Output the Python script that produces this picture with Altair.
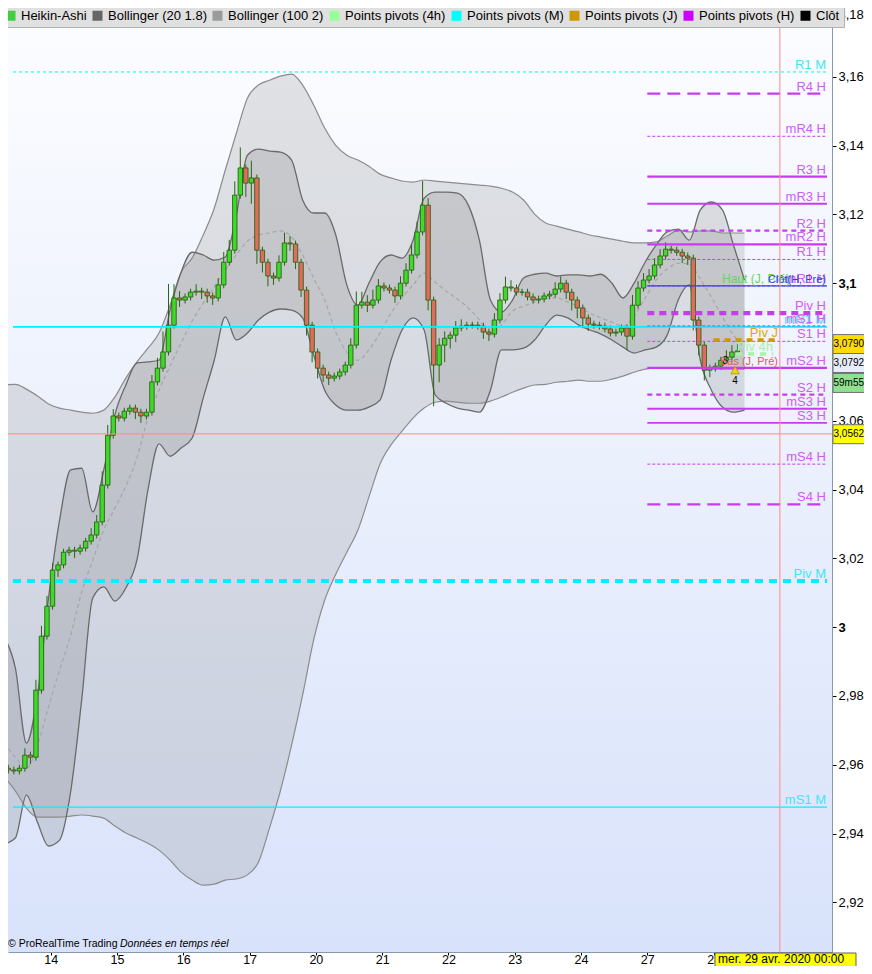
import altair as alt
import pandas as pd

# ---------------------------------------------------------------- calendar / axes
day_labels = ["13", "14", "15", "16", "17", "20", "21", "22", "23", "24", "27", "28", "29"]
day_ticks = list(range(1, 13))
y_ticks = [2.92, 2.94, 2.96, 2.98, 3.0, 3.02, 3.04, 3.06, 3.08, 3.1, 3.12, 3.14, 3.16, 3.18]

# ---------------------------------------------------------------- Heikin-Ashi candles (12 per trading day)
candle_start = 0.36
candles_per_day = 12
ha_first_open = 2.9590
ha_close = [
    2.9585, 2.9582, 2.9590, 2.9628, 2.9622, 2.9817, 2.9974, 3.0061, 3.0166, 3.0181,
    3.0218, 3.0224, 3.0221, 3.0230, 3.0250, 3.0268, 3.0306, 3.0413, 3.0558, 3.0614,
    3.0608, 3.0628, 3.0637, 3.0625, 3.0614, 3.0625, 3.0713, 3.0753, 3.0800, 3.0878,
    3.0957, 3.0951, 3.0960, 3.0974, 3.0977, 3.0974, 3.0963, 3.0957, 3.0995, 3.1061,
    3.1096, 3.1256, 3.1335, 3.1291, 3.1306, 3.1096, 3.1061, 3.1021, 3.1015, 3.1061,
    3.1117, 3.1114, 3.1061, 3.0980, 3.0878, 3.0800, 3.0753, 3.0733, 3.0724, 3.0730,
    3.0742, 3.0762, 3.0820, 3.0936, 3.0945, 3.0936, 3.0951, 3.0992, 3.0986, 3.0980,
    3.0963, 3.1000, 3.1038, 3.1082, 3.1149, 3.1227, 3.0951, 3.0762, 3.0820, 3.0840,
    3.0849, 3.0870, 3.0875, 3.0878, 3.0878, 3.0875, 3.0858, 3.0852, 3.0893, 3.0951,
    3.0989, 3.0986, 3.0974, 3.0974, 3.0960, 3.0951, 3.0954, 3.0963, 3.0968, 3.0983,
    3.1000, 3.0974, 3.0951, 3.0928, 3.0899, 3.0881, 3.0878, 3.0875, 3.0867, 3.0855,
    3.0858, 3.0870, 3.0846, 3.0936, 3.0986, 3.1009, 3.1021, 3.1053, 3.1079, 3.1099,
    3.1096, 3.1090, 3.1079, 3.1073, 3.0893, 3.0820, 3.0747, 3.0753, 3.0759, 3.0776,
    3.0785, 3.0800, 3.0803,
]
# wick extensions above / below the body, in thousandths
wick_up = [
    1, 1, 1, 2, 1, 3, 3, 3, 2, 1, 1, 1, 1, 1, 1, 2, 2, 4, 3, 2,
    1, 1, 1, 1, 1, 1, 2, 3, 6, 12, 4, 2, 1, 1, 2, 1, 1, 1, 2, 3,
    3, 4, 6, 1, 5, 1, 1, 1, 1, 2, 3, 2, 1, 1, 1, 1, 1, 1, 1, 1,
    1, 1, 2, 4, 3, 2, 3, 2, 1, 1, 1, 2, 2, 3, 3, 7, 2, 1, 2, 2,
    1, 2, 2, 1, 1, 1, 1, 1, 2, 2, 3, 2, 1, 1, 1, 1, 1, 1, 1, 2,
    2, 1, 1, 1, 1, 1, 1, 1, 1, 1, 1, 1, 1, 3, 2, 2, 2, 2, 2, 2,
    1, 1, 1, 1, 1, 1, 1, 1, 1, 1, 2, 2, 2,
]
wick_dn = [
    1, 1, 1, 1, 2, 1, 1, 1, 1, 2, 1, 1, 2, 1, 1, 1, 1, 1, 1, 1,
    1, 1, 1, 2, 2, 1, 1, 1, 1, 1, 1, 2, 1, 1, 1, 2, 2, 2, 1, 1,
    1, 1, 1, 4, 6, 4, 3, 3, 2, 1, 1, 2, 2, 2, 3, 3, 3, 2, 2, 1,
    1, 1, 1, 1, 1, 2, 1, 1, 1, 1, 2, 1, 1, 1, 1, 1, 3, 12, 5, 5,
    3, 2, 1, 1, 1, 1, 2, 2, 1, 1, 1, 1, 1, 1, 1, 1, 1, 1, 1, 1,
    1, 2, 3, 3, 3, 2, 1, 1, 1, 1, 1, 1, 4, 1, 1, 1, 1, 1, 1, 1,
    1, 1, 2, 2, 3, 3, 3, 2, 1, 1, 1, 1, 1,
]

# ---------------------------------------------------------------- Bollinger bands (6 samples per day)
band_start = 0.30
band_per_day = 6
bb100_up = [
    3.0704, 3.0706, 3.0692, 3.0672, 3.0649, 3.0637, 3.0631, 3.0625, 3.0622, 3.0631,
    3.0669, 3.0724, 3.0771, 3.0811, 3.0855, 3.0936, 3.1032, 3.1073, 3.1140, 3.1218,
    3.1329, 3.1436, 3.1538, 3.1576, 3.1590, 3.1602, 3.1608, 3.1576, 3.1518, 3.1451,
    3.1401, 3.1372, 3.1358, 3.1340, 3.1317, 3.1306, 3.1297, 3.1294, 3.1300, 3.1297,
    3.1294, 3.1291, 3.1288, 3.1285, 3.1282, 3.1276, 3.1265, 3.1242, 3.1201, 3.1175,
    3.1166, 3.1157, 3.1149, 3.1140, 3.1134, 3.1128, 3.1122, 3.1117, 3.1117, 3.1120,
    3.1137, 3.1154, 3.1149, 3.1152, 3.1152, 3.1146, 3.1146, 3.1146,
]
bb100_lo = [
    2.9565, 2.9524, 2.9474, 2.9448, 2.9448, 2.9448, 2.9451, 2.9454, 2.9451, 2.9445,
    2.9422, 2.9402, 2.9387, 2.9372, 2.9352, 2.9323, 2.9288, 2.9265, 2.9250, 2.9253,
    2.9265, 2.9268, 2.9280, 2.9317, 2.9416, 2.9526, 2.9657, 2.9803, 2.9963, 3.0079,
    3.0154, 3.0218, 3.0282, 3.0378, 3.0474, 3.0530, 3.0570, 3.0608, 3.0637, 3.0654,
    3.0657, 3.0654, 3.0651, 3.0651, 3.0657, 3.0669, 3.0683, 3.0695, 3.0704, 3.0706,
    3.0712, 3.0715, 3.0718, 3.0715, 3.0715, 3.0721, 3.0730, 3.0741, 3.0750, 3.0753,
    3.0753, 3.0753, 3.0753, 3.0753, 3.0750, 3.0750, 3.0750, 3.0750,
]
bb20_up = [
    2.9971, 2.9881, 2.9663, 2.9803, 3.0085, 3.0311, 3.0457, 3.0462, 3.0335, 3.0457,
    3.0617, 3.0704, 3.0768, 3.0771, 3.0776, 3.0922, 3.1032, 3.1090, 3.1082, 3.1067,
    3.1076, 3.1198, 3.1372, 3.1390, 3.1384, 3.1381, 3.1358, 3.1242, 3.1204, 3.1204,
    3.1140, 3.0995, 3.0936, 3.1000, 3.1061, 3.1082, 3.1073, 3.1125, 3.1247, 3.1265,
    3.1265, 3.1262, 3.1227, 3.1125, 3.0951, 3.0916, 3.0951, 3.1015, 3.1026, 3.1029,
    3.1021, 3.1024, 3.1024, 3.1021, 3.1026, 3.1000, 3.0957, 3.1000, 3.1061, 3.1111,
    3.1149, 3.1157, 3.1125, 3.1213, 3.1236, 3.1213, 3.1111, 3.1009,
]
bb20_lo = [
    2.9370, 2.9387, 2.9512, 2.9433, 2.9364, 2.9381, 2.9521, 2.9788, 3.0085, 3.0117,
    3.0076, 3.0114, 3.0195, 3.0399, 3.0533, 3.0497, 3.0521, 3.0550, 3.0666, 3.0776,
    3.0902, 3.0835, 3.0855, 3.0893, 3.0916, 3.0925, 3.0922, 3.0899, 3.0791, 3.0689,
    3.0646, 3.0631, 3.0631, 3.0640, 3.0660, 3.0776, 3.0864, 3.0899, 3.0864, 3.0675,
    3.0651, 3.0637, 3.0631, 3.0625, 3.0689, 3.0806, 3.0806, 3.0811, 3.0835, 3.0878,
    3.0907, 3.0899, 3.0878, 3.0864, 3.0852, 3.0835, 3.0814, 3.0797, 3.0806, 3.0814,
    3.0849, 3.0951, 3.0995, 3.0776, 3.0689, 3.0640, 3.0625, 3.0631,
]
bb20_mid = [
    2.9663, 2.9622, 2.9590, 2.9657, 2.9768, 2.9875, 2.9977, 3.0102, 3.0195, 3.0282,
    3.0346, 3.0410, 3.0492, 3.0608, 3.0689, 3.0759, 3.0826, 3.0890, 3.0942, 3.0989,
    3.1038, 3.1082, 3.1122, 3.1140, 3.1146, 3.1152, 3.1134, 3.1082, 3.1015, 3.0951,
    3.0858, 3.0800, 3.0776, 3.0806, 3.0855, 3.0913, 3.0957, 3.0995, 3.1029, 3.1003,
    3.0977, 3.0954, 3.0928, 3.0893, 3.0849, 3.0878, 3.0919, 3.0933, 3.0945, 3.0957,
    3.0957, 3.0945, 3.0931, 3.0913, 3.0899, 3.0887, 3.0875, 3.0904, 3.0957, 3.1009,
    3.1041, 3.1058, 3.1056, 3.1012, 3.0960, 3.0902, 3.0849, 3.0820,
]

# ---------------------------------------------------------------- pivot points
H_names = ["R4 H", "mR4 H", "R3 H", "mR3 H", "R2 H", "mR2 H", "R1 H", "mR1 H", "Piv H",
           "mS1 H", "S1 H", "mS2 H", "S2 H", "mS3 H", "S3 H", "mS4 H", "S4 H"]
H_values = [3.1551, 3.1427, 3.1310, 3.1231, 3.1153, 3.1113, 3.1069, 3.0992, 3.0913,
            3.0876, 3.0831, 3.0754, 3.0676, 3.0635, 3.0594, 3.0474, 3.0357]
H_start = 10.0          # Monday 27
M_names = ["R1 M", "mR1 M", "Piv M", "mS1 M"]
M_values = [3.1614, 3.0873, 3.0134, 2.9477]
J_piv, J_start, J_end = 3.0835, 11.0, 11.95
P4h_piv, P4h_start, P4h_end = 3.0794, 11.34, 11.90
prev_close_H = 3.0992
prev_high_J = 3.0992
prev_low_J = 3.0753
alert_t, alert_p = 11.325, 3.0747
alert_count_t, alert_count_p = 11.176, 3.0774

# crosshair & price tags
cross_price, cross_t = 3.0562, 12.0
tag_labels = ["3,0790", "3,0792", "59m55", "3,0562"]
tag_centers = [3.0823, 3.0768, 3.0710, 3.0561]
date_tag = "mer. 29 avr. 2020 00:00"

legend_names = ["Heikin-Ashi", "Bollinger (20 1.8)", "Bollinger (100 2)", "Points pivots (4h)",
                "Points pivots (M)", "Points pivots (J)", "Points pivots (H)", "Clôt"]

# ---------------------------------------------------------------- styles / layout
W, H = 824, 944
X_DOMAIN = [0.4307, 12.711]
Y_DOMAIN = [2.90558, 3.18]
FONT = "Liberation Sans"
MAG_LINE = "#c83cf0"
MAG_TEXT = "#cf5cf5"
CYAN_LINE = "#00f2ff"
CYAN_TEXT = "#3ee6f6"
legend_colors = ["#3fcf3f", "#666666", "#9a9a9a", "#99ff99", "#00ffff", "#cc9900", "#cc00ff", "#000000"]
tag_fills = ["#ffdc00", "#e6ecf8", "#8fe08f", "#ffff00"]

xs = alt.Scale(domain=X_DOMAIN, nice=False, zero=False)
ys = alt.Scale(domain=Y_DOMAIN, nice=False, zero=False)
x_axis = alt.Axis(values=day_ticks, labelExpr="[" + ",".join('"%s"' % d for d in day_labels) + "][datum.value]",
                  grid=False, domainColor="#8898aa", tickColor="black", tickSize=3, labelPadding=-2,
                  labelFont=FONT, labelFontSize=12.5, labelColor="black", labelFlush=False,
                  labelOverlap=False, title=None)
y_axis = alt.Axis(orient="right", values=y_ticks,
                  labelExpr="replace(format(datum.value, '.2~f'), '.', ',')",
                  labelFontWeight={"condition": {"test": "abs(datum.value - 3) < 1e-6 || abs(datum.value - 3.1) < 1e-6",
                                                 "value": "bold"}, "value": "normal"},
                  labelBaseline={"condition": {"test": "datum.value > 3.179", "value": "top"}, "value": "middle"},
                  grid=False, domainColor="#8898aa", tickColor="black", tickSize=4, labelPadding=2,
                  labelFont=FONT, labelFontSize=13, labelColor="black", labelFlush=False,
                  labelOverlap=False, title=None)


def X(f):
    return alt.X(f + ":Q", scale=xs, axis=x_axis, title=None)


def Y(f):
    return alt.Y(f + ":Q", scale=ys, axis=y_axis, title=None)


one = pd.DataFrame({"a": [0]})
layers = []

# background gradient
layers.append(alt.Chart(one).mark_rect(color=alt.Gradient(
    gradient="linear", x1=0, x2=0, y1=0, y2=1,
    stops=[alt.GradientStop(color="#fcfdff", offset=0), alt.GradientStop(color="#d8e2fa", offset=1)]
)).encode(x=alt.value(0), x2=alt.value(W), y=alt.value(0), y2=alt.value(H)))

# bands
nb = min(len(bb100_up), len(bb100_lo), len(bb20_up), len(bb20_lo), len(bb20_mid))
bands = pd.DataFrame({
    "t": [band_start + k / band_per_day for k in range(nb)],
    "u100": bb100_up[:nb], "l100": bb100_lo[:nb],
    "u20": bb20_up[:nb], "l20": bb20_lo[:nb], "m20": bb20_mid[:nb],
})
bc = alt.Chart(bands)
layers.append(bc.mark_area(color="#9a9a9a", opacity=0.27, interpolate="monotone", clip=True)
              .encode(x=X("t"), y=Y("l100"), y2="u100"))
layers.append(bc.mark_area(color="#6e6e6e", opacity=0.2, interpolate="monotone", clip=True)
              .encode(x=X("t"), y=Y("l20"), y2="u20"))
for f, col, w in [("u100", "#8c8c8c", 1.2), ("l100", "#8c8c8c", 1.2), ("u20", "#6a6a6a", 1.3), ("l20", "#6a6a6a", 1.3)]:
    layers.append(bc.mark_line(color=col, strokeWidth=w, interpolate="monotone", clip=True)
                  .encode(x=X("t"), y=Y(f)))
layers.append(bc.mark_line(color="#a6a6a6", strokeWidth=1.2, strokeDash=[4, 3], interpolate="monotone", clip=True)
              .encode(x=X("t"), y=Y("m20")))

# candles
n = min(len(ha_close), len(wick_up), len(wick_dn))
opens = [ha_first_open] + ha_close[:n - 1]
cdf = pd.DataFrame({
    "t": [candle_start + i / candles_per_day for i in range(n)],
    "open": opens, "close": ha_close[:n],
})
cdf["high"] = [max(o, c) + u / 1000 for o, c, u in zip(cdf["open"], cdf["close"], wick_up[:n])]
cdf["low"] = [min(o, c) - d / 1000 for o, c, d in zip(cdf["open"], cdf["close"], wick_dn[:n])]
cc = alt.Chart(cdf)
layers.append(cc.mark_rule(color="#2a6412", strokeWidth=1, clip=True)
              .encode(x=X("t"), y=Y("low"), y2="high"))
layers.append(cc.mark_bar(size=4.4, stroke="#2a6412", strokeWidth=0.9, clip=True)
              .encode(x=X("t"), y=Y("open"), y2="close",
                      fill=alt.condition("datum.close >= datum.open", alt.value("#3fd92b"), alt.value("#e46a5e"))))


def hline(names, values, x0, x1, color, width, dash=None):
    df = pd.DataFrame({"name": names, "value": values})
    df["x0"] = x0
    df["x1"] = x1
    kw = dict(color=color, strokeWidth=width, clip=True)
    if dash:
        kw["strokeDash"] = dash
    return alt.Chart(df).mark_rule(**kw).encode(x=X("x0"), x2="x1", y=Y("value"))


# monthly pivots (full width)
Mv = dict(zip(M_names, M_values))
layers.append(hline(["R1 M"], [Mv["R1 M"]], X_DOMAIN[0], X_DOMAIN[1], CYAN_LINE, 1, [3, 3]))
layers.append(hline(["mR1 M"], [Mv["mR1 M"]], X_DOMAIN[0], X_DOMAIN[1], CYAN_LINE, 1.6))
layers.append(hline(["Piv M"], [Mv["Piv M"]], X_DOMAIN[0], X_DOMAIN[1], CYAN_LINE, 4, [8, 6]))
layers.append(hline(["mS1 M"], [Mv["mS1 M"]], X_DOMAIN[0], X_DOMAIN[1], CYAN_LINE, 1.2))

# weekly pivots
Hv = dict(zip(H_names, H_values))
H_styles = [
    (["R3 H", "mR3 H", "mR2 H", "mS2 H", "mS3 H"], 2.2, None),
    (["S3 H"], 1.7, None),
    (["mR4 H", "R1 H", "mR1 H", "mS1 H", "S1 H", "mS4 H"], 1.0, [3, 2]),
    (["R2 H", "S2 H"], 2.2, [5, 4]),
    (["R4 H", "S4 H"], 2.2, [13, 7]),
    (["Piv H"], 4.2, [7, 5]),
]
for names, w, dash in H_styles:
    layers.append(hline(names, [Hv[k] for k in names], H_start, X_DOMAIN[1], MAG_LINE, w, dash))

# previous close (H) line, daily & 4h pivots
layers.append(hline(["Clôt(H, Pré)"], [prev_close_H], H_start, X_DOMAIN[1], "#3040e0", 1.2))
layers.append(hline(["Piv J"], [J_piv], J_start, J_end, "#cc9900", 3.5, [6, 5]))
layers.append(hline(["Piv 4h"], [P4h_piv], P4h_start, P4h_end, "#a4f5a4", 3.5, [6, 6]))


def labels(names, values, xpx, color, size=13, align="right"):
    df = pd.DataFrame({"name": names, "value": values})
    return alt.Chart(df).mark_text(align=align, baseline="alphabetic", dy=-3, font=FONT, fontSize=size,
                                   color=color).encode(x=alt.value(xpx), y=Y("value"), text="name:N")


layers.append(labels(M_names, M_values, 818, CYAN_TEXT))
layers.append(labels(H_names, H_values, 818, MAG_TEXT))
layers.append(labels(["Piv J"], [J_piv], 770, "#e0a419", 13))
layers.append(labels(["Piv 4h"], [P4h_piv], 765, "#a8f0a8", 13))
layers.append(labels(["Haut (J, Pré)"], [prev_high_J], 782, "#5fd85f", 12))
layers.append(labels(["Clôt(H, Pré)"], [prev_close_H], 818, "#3040d8", 11))

# alert marker
adf = pd.DataFrame({"t": [alert_t], "p": [alert_p], "n": ["4"]})
layers.append(alt.Chart(adf).mark_point(shape="triangle-up", size=70, filled=True, color="#f2d21b",
                                        stroke="#b39200", strokeWidth=0.8, opacity=1)
              .encode(x=X("t"), y=Y("p")))
layers.append(alt.Chart(adf).mark_text(font=FONT, fontSize=10, color="black", baseline="top", dy=6)
              .encode(x=X("t"), y=Y("p"), text="n:N"))
layers.append(alt.Chart(pd.DataFrame({"t": [alert_count_t], "p": [alert_count_p], "n": ["3"]}))
              .mark_text(font=FONT, fontSize=10, color="black", baseline="middle")
              .encode(x=X("t"), y=Y("p"), text="n:N"))
layers.append(labels(["Bas (J, Pré)"], [prev_low_J], 770, "#e05a5a", 11))

# crosshair
layers.append(alt.Chart(pd.DataFrame({"p": [cross_price]})).mark_rule(color="#ff8a8a", strokeWidth=1)
              .encode(y=Y("p"), x=alt.value(0), x2=alt.value(W)))
layers.append(alt.Chart(pd.DataFrame({"t": [cross_t]})).mark_rule(color="#ff8a8a", strokeWidth=1)
              .encode(x=X("t"), y=alt.value(0), y2=alt.value(H)))

# price tags on the right axis
half = 0.00276
for lab, cen, fill in zip(tag_labels, tag_centers, tag_fills):
    tdf = pd.DataFrame({"lab": [lab], "c": [cen], "top": [cen + half], "bot": [cen - half]})
    layers.append(alt.Chart(tdf).mark_rect(fill=fill, stroke="#707070", strokeWidth=1)
                  .encode(x=alt.value(825), x2=alt.value(866), y=Y("top"), y2="bot"))
    layers.append(alt.Chart(tdf).mark_text(align="left", baseline="middle", font=FONT, fontSize=10, color="black")
                  .encode(x=alt.value(825.5), y=Y("c"), text="lab:N"))

# date tag on the time axis
layers.append(alt.Chart(one).mark_rect(fill="#ffff00", stroke="#606060", strokeWidth=1)
              .encode(x=alt.value(707), x2=alt.value(848), y=alt.value(945), y2=alt.value(960)))
layers.append(alt.Chart(pd.DataFrame({"s": [date_tag]})).mark_text(align="left", baseline="middle", font=FONT,
                                                                  fontSize=12, color="black")
              .encode(x=alt.value(710), y=alt.value(951), text="s:N"))

# footer
layers.append(alt.Chart(pd.DataFrame({"s": ["© ProRealTime Trading"]})).mark_text(
    align="left", baseline="middle", font=FONT, fontSize=10.5, color="black")
    .encode(x=alt.value(0), y=alt.value(936), text="s:N"))
layers.append(alt.Chart(pd.DataFrame({"s": ["Données en temps réel"]})).mark_text(
    align="left", baseline="middle", font=FONT, fontSize=10.5, fontStyle="italic", color="black")
    .encode(x=alt.value(112), y=alt.value(936), text="s:N"))

# indicator legend bar
layers.append(alt.Chart(pd.DataFrame({"name": legend_names})).mark_square(opacity=0, size=1)
              .encode(x=alt.value(100), y=alt.value(100),
                      color=alt.Color("name:N", scale=alt.Scale(domain=legend_names, range=legend_colors),
                                      legend=alt.Legend(orient="none", legendX=-8, legendY=-3,
                                                        direction="horizontal", columns=8, title=None,
                                                        symbolType="square", symbolSize=100,
                                                        symbolStrokeWidth=0, symbolOpacity=1,
                                                        labelFont=FONT, labelFontSize=13, labelColor="black",
                                                        labelOffset=4, columnPadding=4, padding=4,
                                                        fillColor="#e0e0e0", strokeColor="#b0b0b0",
                                                        labelLimit=300, zindex=1))))

chart = alt.layer(*layers).properties(
    width=W, height=H,
    padding={"left": 0, "top": 0, "right": 32, "bottom": 14},
    autosize=alt.AutoSizeParams(type="none"),
    background="white",
).configure_view(stroke=None)

chart.save("out.html", embed_options={"renderer": "svg", "actions": False})
